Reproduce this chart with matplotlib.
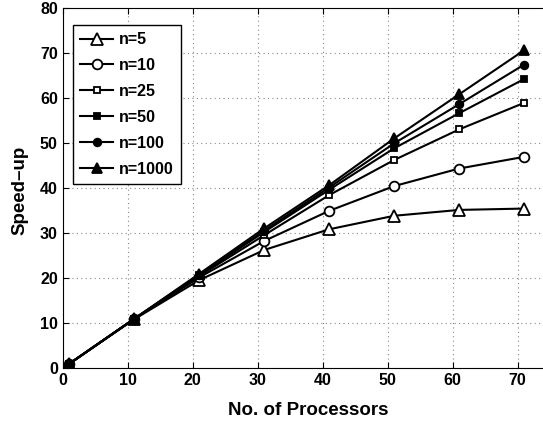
import matplotlib
matplotlib.use('Agg')
import matplotlib.pyplot as plt

plt.rcParams['font.family'] = ['Liberation Sans', 'DejaVu Sans']
plt.rcParams['font.weight'] = 'bold'

procs = [1, 11, 21, 31, 41, 51, 61, 71]
labels = ['n=5', 'n=10', 'n=25', 'n=50', 'n=100', 'n=1000']
s_n5 = [1, 10.9, 19.6, 26.3, 30.9, 33.9, 35.2, 35.5]
s_n10 = [1, 11, 20.2, 28.3, 35.0, 40.5, 44.4, 47.0]
s_n25 = [1, 11, 20.5, 29.6, 38.5, 46.3, 53.1, 59.0]
s_n50 = [1, 11, 20.7, 30.3, 39.7, 48.9, 56.7, 64.3]
s_n100 = [1, 11, 20.8, 30.6, 40.2, 50.0, 58.7, 67.5]
s_n1000 = [1, 11, 21.0, 31.1, 40.7, 51.1, 60.9, 70.7]

series = [s_n5, s_n10, s_n25, s_n50, s_n100, s_n1000]
markers = ['^', 'o', 's', 's', 'o', '^']
fills = ['white', 'white', 'white', 'black', 'black', 'black']
sizes = [8, 7, 4, 4.5, 5.5, 6.5]

fig = plt.figure(figsize=(5.43, 4.25), dpi=100)
ax = fig.add_axes([0.1155, 0.1334, 0.8978, 0.847])

for y, lab, m, fc, ms in zip(series, labels, markers, fills, sizes):
    ax.plot(procs, y, color='black', linewidth=1.5, marker=m, markersize=ms,
            markerfacecolor=fc, markeredgecolor='black', markeredgewidth=1.3,
            label=lab)

ax.set_xlim(0, 75)
ax.set_ylim(0, 80)
ax.set_xticks(range(0, 71, 10))
ax.set_yticks(range(0, 81, 10))
ax.grid(True, linestyle=(0, (1, 3)), color='#888888', linewidth=0.8)
ax.tick_params(direction='in', top=True, right=False, labelsize=11.5, length=4)
for t in ax.get_xticklabels() + ax.get_yticklabels():
    t.set_fontweight('bold')
ax.spines['right'].set_visible(False)

ax.set_xlabel('No. of Processors', fontsize=13.5, fontweight='bold', va='center')
ax.set_ylabel('Speed\u2013up', fontsize=13.5, fontweight='bold', va='center')
ax.xaxis.set_label_coords(0.504, -0.116)
ax.yaxis.set_label_coords(-0.087, 0.493)

leg = ax.legend(loc='upper left', bbox_to_anchor=(0.0205, 0.9536), borderaxespad=0,
                fancybox=False, edgecolor='black', framealpha=1,
                prop={'weight': 'bold', 'size': 11.5},
                handlelength=2.1, labelspacing=0.68, borderpad=0.45, handletextpad=0.35)
leg.get_frame().set_linewidth(1.0)

fig.savefig('out.png', dpi=100)
